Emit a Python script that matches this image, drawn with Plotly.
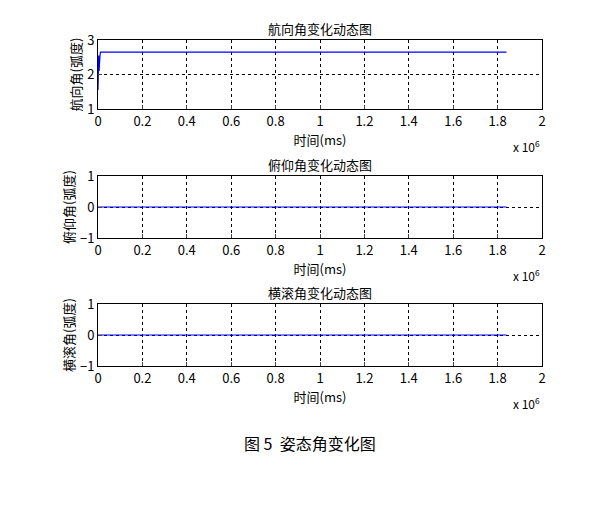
import plotly.graph_objects as go
from plotly.subplots import make_subplots

# data
t_yaw = [0, 0, 3000, 5000, 6000, 9000, 11000, 1840000]
yaw = [1.55, 2.5, 2.55, 2.1, 2.55, 2.55, 2.65, 2.65]
t_flat = [0, 1840000]
pitch = [0, 0]
roll = [0, 0]
titles = ["航向角变化动态图", "俯仰角变化动态图", "横滚角变化动态图"]
ylabels = ["航向角(弧度)", "俯仰角(弧度)", "横滚角(弧度)"]
yranges = [[1, 3], [-1, 1], [-1, 1]]
xticks = [0, 200000, 400000, 600000, 800000, 1000000, 1200000, 1400000, 1600000, 1800000, 2000000]
xticktext = ["0", "0.2", "0.4", "0.6", "0.8", "1", "1.2", "1.4", "1.6", "1.8", "2"]

fig = make_subplots(rows=3, cols=1)
series = [(t_yaw, yaw), (t_flat, pitch), (t_flat, roll)]
doms = [(1 - 101 / 507, 1 - 32 / 507), (1 - 230 / 507, 1 - 168 / 507), (1 - 358 / 507, 1 - 296 / 507)]
font = "SimSun, Noto Sans CJK SC, Arial"
for i, (x, y) in enumerate(series):
    r = i + 1
    fig.add_trace(go.Scatter(x=x, y=y, mode="lines", line=dict(color="#0000ff", width=1.2),
                             showlegend=False), row=r, col=1)
    fig.update_xaxes(range=[0, 2000000], tickvals=xticks, ticktext=xticktext, showgrid=True,
                     gridcolor="black", griddash="3px,3px", gridwidth=1, showline=True, mirror=True,
                     linecolor="black", ticks="inside", ticklen=4, zeroline=False, automargin=False,
                     title=dict(text="时间(ms)", standoff=0, font=dict(size=13)),
                     domain=[90 / 594, 534 / 594], row=r, col=1)
    fig.update_yaxes(range=yranges[i], dtick=1, showgrid=True, gridcolor="black", griddash="3px,3px",
                     gridwidth=1, showline=True, mirror=True, linecolor="black", ticks="inside",
                     ticklen=4, zeroline=False, domain=list(doms[i]), automargin=False,
                     title=dict(text=ylabels[i], standoff=2, font=dict(size=13)), row=r, col=1)
    fig.add_annotation(text=titles[i], x=312 / 594, y=doms[i][1], xref="paper", yref="paper",
                       yanchor="bottom", showarrow=False, yshift=0, font=dict(size=13))
    fig.add_annotation(text="x 10<sup>6</sup>", x=534 / 594, y=doms[i][0], xref="paper", yref="paper",
                       xanchor="right", yanchor="top", showarrow=False, yshift=-26, font=dict(size=12))

fig.add_annotation(text="图 5  姿态角变化图", x=302 / 594, y=1 - 449 / 507, xref="paper", yref="paper",
                   showarrow=False, font=dict(size=16))
fig.update_layout(width=594, height=507, margin=dict(l=0, r=0, t=0, b=0),
                  paper_bgcolor="white", plot_bgcolor="white",
                  font=dict(family=font, size=13, color="black"))
fig.write_html("out.html")
